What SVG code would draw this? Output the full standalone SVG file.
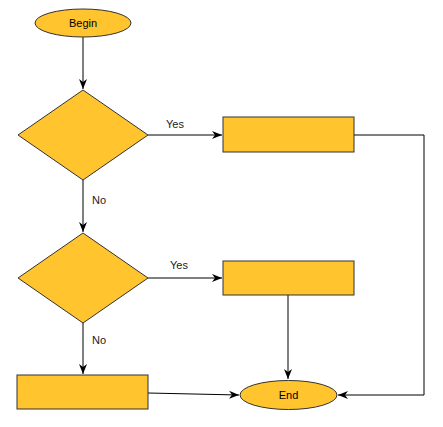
<svg xmlns="http://www.w3.org/2000/svg" width="443" height="427" viewBox="0 0 443 427">
<style>
.n{fill:#FFC42E;stroke:#333;stroke-width:1}
.e{fill:none;stroke:#000;stroke-width:1}
.t{font-family:"Liberation Sans",Arial,sans-serif;font-size:11px;fill:#000}
.l{font-family:"Liberation Sans",Arial,sans-serif;font-size:11px;fill:#222}
</style>
<defs>
<marker id="a" viewBox="0 0 10 10" refX="10" refY="5" markerWidth="10" markerHeight="10" markerUnits="userSpaceOnUse" orient="auto">
<path d="M0,1 L10,5 L0,9 L3,5 Z" fill="#000"/>
</marker>
</defs>
<rect width="443" height="427" fill="#fff"/>
<g id="connectors">
<path class="e" d="M83,37 V89" marker-end="url(#a)"/>
<path class="e" d="M148,135 H222" marker-end="url(#a)"/>
<path class="e" d="M354,135 H424 V395 H338" marker-end="url(#a)"/>
<path class="e" d="M83,180 V232" marker-end="url(#a)"/>
<path class="e" d="M148,278 H222" marker-end="url(#a)"/>
<path class="e" d="M288,295 V379" marker-end="url(#a)"/>
<path class="e" d="M83,323 V374" marker-end="url(#a)"/>
<path class="e" d="M148,393 L239,395" marker-end="url(#a)"/>
<text class="l" x="166" y="128">Yes</text>
<text class="l" x="92" y="204">No</text>
<text class="l" x="170" y="269">Yes</text>
<text class="l" x="92" y="344">No</text>
</g>
<g id="begin">
<ellipse class="n" cx="83" cy="23" rx="48" ry="14"/>
<text class="t" x="83" y="27" text-anchor="middle">Begin</text>
</g>
<g id="decision1"><polygon class="n" points="83,90 148,135 83,180 18,135"/></g>
<g id="process1"><rect class="n" x="223" y="117" width="131" height="35"/></g>
<g id="decision2"><polygon class="n" points="83,233 148,278 83,323 18,278"/></g>
<g id="process2"><rect class="n" x="223" y="261" width="131" height="34"/></g>
<g id="process3"><rect class="n" x="17" y="375" width="131" height="34"/></g>
<g id="end">
<ellipse class="n" cx="288.5" cy="395" rx="48.5" ry="14.5"/>
<text class="t" x="288.5" y="399" text-anchor="middle">End</text>
</g>
</svg>
